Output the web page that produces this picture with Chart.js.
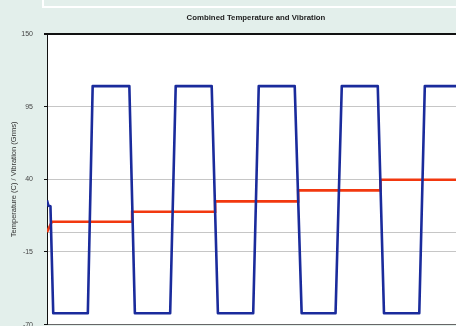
<!DOCTYPE html>
<html>
<head>
<meta charset="utf-8">
<title>Combined Temperature and Vibration</title>
<script src="https://cdn.jsdelivr.net/npm/chart.js@4/dist/chart.umd.min.js"></script>
<style>
  html, body { margin: 0; padding: 0; width: 456px; height: 326px; overflow: hidden; background: #e3efeb; }
  #topbox { position: absolute; left: 42px; top: -18px; width: 620px; height: 22px; border: 2px solid #fff; }
  #wrap { position: absolute; left: 0; top: 0; width: 512px; height: 360px; }
</style>
</head>
<body>
<div id="topbox"></div>
<div id="wrap"><canvas id="chart" width="512" height="360"></canvas></div>
<script>
// time in minutes
const vibTime  = [0, 2, 5, 9, 59, 66, 119, 127, 178, 186, 238, 247, 298, 306, 358, 368, 417, 426, 478, 487, 538, 546, 600];
const vibValue = [24, 20, 19.5, -61.4, -61.4, 110.5, 110.5, -61.4, -61.4, 110.5, 110.5, -61.4, -61.4, 110.5, 110.5, -61.4, -61.4, 110.5, 110.5, -61.4, -61.4, 110.5, 110.5];

const tempTime  = [0, 7, 123, 123, 243, 243, 363, 363, 482, 482, 600];
const tempValue = [0, 7.8, 7.8, 15.4, 15.4, 23.3, 23.3, 31.6, 31.6, 39.6, 39.6];

const yTicks = [-70, -15, 0, 40, 95, 150];

function toPoints(xs, ys) {
    return xs.map((x, i) => ({ x: x, y: ys[i] }));
}

// weisser Plotbereich
const plotBg = {
    id: 'plotBg',
    beforeDraw(chart) {
        const a = chart.chartArea;
        const ctx = chart.ctx;
        ctx.save();
        ctx.fillStyle = '#ffffff';
        ctx.fillRect(a.left, a.top, a.right - a.left, a.bottom - a.top);
        ctx.restore();
    }
};

new Chart(document.getElementById('chart').getContext('2d'), {
    type: 'line',
    data: {
        datasets: [{
            label: 'Vibration (Grms)',
            data: toPoints(vibTime, vibValue),
            borderColor: '#1a2b9c',
            borderWidth: 2.6,
            borderJoinStyle: 'round',
            pointRadius: 0,
            tension: 0,
            order: 0
        }, {
            label: 'Temperature (C)',
            data: toPoints(tempTime, tempValue),
            borderColor: '#f2380f',
            borderWidth: 2.6,
            pointRadius: 0,
            tension: 0,
            order: 1
        }]
    },
    options: {
        responsive: false,
        animation: false,
        layout: { padding: { top: 3.6, right: 0, bottom: 35.4, left: 0 } },
        scales: {
            x: {
                type: 'linear',
                min: 0,
                max: 672,
                display: false
            },
            y: {
                min: -70,
                max: 150,
                afterBuildTicks: (scale) => {
                    scale.ticks = yTicks.map(v => ({ value: v }));
                },
                afterFit: (scale) => {
                    scale.width = 47;
                },
                ticks: {
                    color: '#444',
                    padding: 11,
                    font: { family: 'Liberation Sans, Arial, sans-serif', size: 7 },
                    callback: (value) => value === 0 ? '' : value
                },
                grid: {
                    color: (ctx) => {
                        const v = ctx.tick.value;
                        if (v === 150) return '#111';
                        if (v === -70) return '#666';
                        return '#c6c6c6';
                    },
                    lineWidth: (ctx) => ctx.tick.value === 150 ? 2 : 1,
                    tickColor: (ctx) => ctx.tick.value === 0 ? 'rgba(0,0,0,0)' : '#111',
                    tickLength: 3
                },
                border: { display: true, color: '#111', width: 1 },
                title: {
                    display: true,
                    text: 'Temperature (C) / Vibration (Grms)',
                    color: '#333',
                    font: { family: 'Liberation Sans, Arial, sans-serif', size: 7.5 },
                    padding: { top: 9.5, bottom: 0 }
                }
            }
        },
        plugins: {
            legend: { display: false },
            tooltip: { enabled: false },
            title: {
                display: true,
                text: 'Combined Temperature and Vibration',
                color: '#222',
                font: { family: 'Liberation Sans, Arial, sans-serif', size: 7.8, weight: 'bold' },
                padding: { top: 10, bottom: 11 }
            }
        }
    },
    plugins: [plotBg]
});
</script>
</body>
</html>
